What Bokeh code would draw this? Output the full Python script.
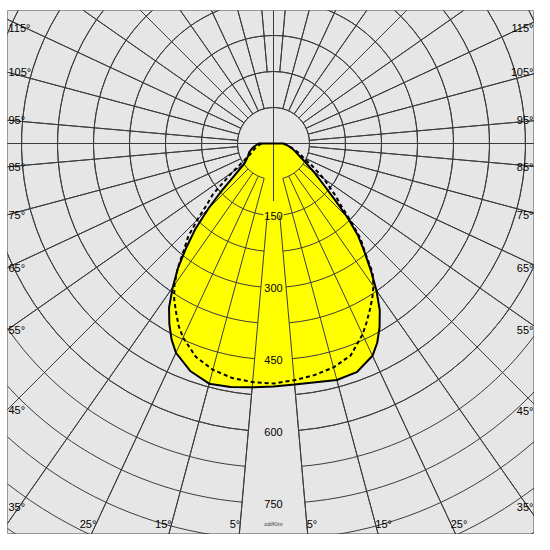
import numpy as np
from bokeh.plotting import figure
from bokeh.models import Range1d
from bokeh.embed import file_html
from bokeh.resources import INLINE
from bokeh.core.properties import value

# ---- data (cd/klm) ----
gamma = [0, 5, 10, 15, 20, 25, 27.5, 30, 32.5, 35, 37.5, 40, 42.5, 45, 47.5, 50, 55, 60, 65, 70, 75, 80, 85, 90]
c0   = [506, 504, 505, 510, 507, 488, 468, 442, 412, 374, 333, 295, 261, 218, 173, 141, 102, 75, 58, 48, 40, 32, 26, 21]
c180 = [506, 510, 515, 518, 505, 481, 460, 434, 405, 366, 327, 282, 240, 192, 148, 112, 75, 64, 58, 54, 48, 42, 36, 31]
c90  = [500, 495, 490, 483, 470, 439, 420, 401, 383, 363, 339, 297, 268, 226, 190, 168, 128, 93, 68, 55, 42, 33, 26, 20]
c270 = [500, 499, 496, 488, 473, 446, 428, 406, 385, 360, 328, 291, 263, 224, 188, 165, 105, 70, 54, 46, 40, 34, 29, 25]

ring_step = 75
ring_count = 14
value_labels = [150, 300, 450, 600, 750]
angle_lines = [5, 15, 25, 35, 45, 55, 65, 75, 85, 95, 105, 115, 125, 135, 145, 155, 165, 175]
side_labels = [35, 45, 55, 65, 75, 85, 95, 105, 115]
bottom_labels = [5, 15, 25]
unit_label = "cd/Klm"

# ---- layout (pixels) ----
PX = 0.48                 # pixels per cd/klm
FW, FH = 534, 534         # figure size
FL, FT = 7, 10            # frame left / top
CX, CY = 273, 143         # polar centre
x0, x1 = -(CX - FL) / PX, (FW - CX) / PX
y1, y0 = (CY - FT) / PX, -(FH - CY) / PX
XL_EDGE, XR_EDGE = -(CX - FL) / PX, (540 - CX) / PX


def dy(ypx):
    return (CY - ypx) / PX


p = figure(width=FW, height=FH, x_range=Range1d(x0, x1), y_range=Range1d(y0, y1),
           x_axis_type=None, y_axis_type=None, output_backend="svg", toolbar_location=None,
           min_border_left=FL, min_border_right=0, min_border_top=FT, min_border_bottom=0,
           background_fill_color="#E6E6E6", border_fill_color="white",
           outline_line_color="#999999")

GRID = "#3c3c3c"


def gap(k):
    return 15 if k == 1 else (8 if k == 2 else 5)


# radial lines
xs0, ys0, xs1, ys1 = [], [], [], []
for a in angle_lines:
    r0 = 2 * ring_step if a in (5, 175) else ring_step
    sa, ca = np.sin(np.radians(a)), np.cos(np.radians(a))
    for s in (1, -1):
        xs0.append(s * r0 * sa); ys0.append(-r0 * ca)
        xs1.append(s * 3000 * sa); ys1.append(-3000 * ca)
xs0 += [-3000, 0, 0]; ys0 += [0, 0, 0]
xs1 += [3000, 0, 0]; ys1 += [0, 3000, -120]


def draw_grid(kmax):
    for k in range(1, kmax + 1):
        p.arc(x=0, y=0, radius=k * ring_step, start_angle=np.radians(-90 + gap(k)),
              end_angle=np.radians(270 - gap(k)), direction="anticlock",
              line_color=GRID, line_width=1)
    p.segment(xs0, ys0, xs1, ys1, line_color=GRID, line_width=1)


draw_grid(ring_count)

g = np.radians(np.array(gamma))
# solid C0-C180 (filled)
xr = np.array(c0) * np.sin(g); yr = -np.array(c0) * np.cos(g)
xl = -np.array(c180) * np.sin(g); yl = -np.array(c180) * np.cos(g)
px = np.concatenate([xr, xl[::-1]]); py = np.concatenate([yr, yl[::-1]])
p.patch(px, py, fill_color="#FFFF00", line_color=None)

# grid over the fill
draw_grid(8)
p.patch(px, py, fill_alpha=0, line_color="black", line_width=2)

# dashed C90-C270
xr2 = np.array(c90) * np.sin(g); yr2 = -np.array(c90) * np.cos(g)
xl2 = -np.array(c270) * np.sin(g); yl2 = -np.array(c270) * np.cos(g)
p.line(np.concatenate([xl2[::-1], xr2]), np.concatenate([yl2[::-1], yr2]),
       line_color="black", line_width=2, line_dash="4 3")

FONT = value("Liberation Sans")
p.text(x=[0] * len(value_labels), y=[-v for v in value_labels], text=[str(v) for v in value_labels],
       text_align="center", text_baseline="middle", text_font=FONT, text_font_size="11px",
       text_color="black")
p.text(x=[0], y=[dy(523)], text=[unit_label], text_align="center", text_baseline="middle",
       text_font=FONT, text_font_size="6px", text_color="#333333")

# side labels
ylo, yhi = dy(506), dy(27)
lx, ly, rx, ry, lt = [], [], [], [], []
for a in side_labels:
    sa, ca = np.sin(np.radians(a)), np.cos(np.radians(a))
    yl_ = -(-XL_EDGE / sa) * ca
    yr_ = -(XR_EDGE / sa) * ca
    lx.append(x0 + 1 / PX); ly.append(min(max(yl_, ylo), yhi))
    rx.append(x1 - 1 / PX); ry.append(min(max(yr_, ylo), yhi))
    lt.append(f"{a}°")
p.text(x=lx, y=ly, text=lt, text_align="left", text_baseline="middle", text_font=FONT,
       text_font_size="11px", text_color="black")
p.text(x=rx, y=ry, text=lt, text_align="right", text_baseline="middle", text_font=FONT,
       text_font_size="11px", text_color="black")

yb = dy(523)
bl = [f"{a}°" for a in bottom_labels]
p.text(x=[yb * np.tan(np.radians(a)) for a in bottom_labels], y=[yb] * 3, text=bl,
       text_align="right", text_baseline="middle", text_font=FONT, text_font_size="11px",
       text_color="black")
p.text(x=[-yb * np.tan(np.radians(a)) for a in bottom_labels], y=[yb] * 3, text=bl,
       text_align="left", text_baseline="middle", text_font=FONT, text_font_size="11px",
       text_color="black")

open("out.html", "w").write(file_html(p, INLINE))
